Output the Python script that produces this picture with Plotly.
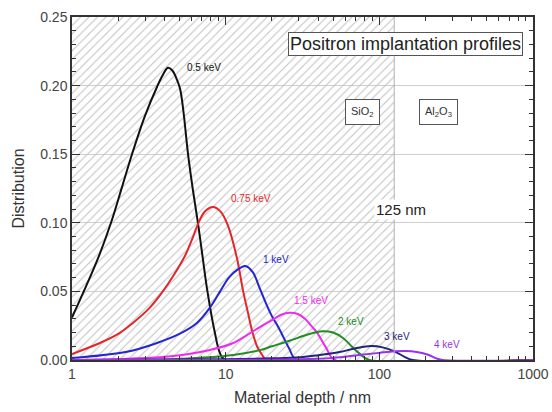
import numpy as np
import plotly.graph_objects as go

# ---------------- data ----------------
x_05 = [1.0, 1.215, 1.476, 1.794, 2.115, 2.457, 2.985, 3.573, 3.91, 4.21, 4.5, 4.75, 5.04, 5.3, 5.69, 6.1, 6.6, 7.1, 7.56, 8.5, 9.18, 9.9, 1000]
y_05 = [0.031, 0.052, 0.074, 0.100, 0.126, 0.150, 0.178, 0.199, 0.208, 0.213, 0.211, 0.206, 0.198, 0.182, 0.150, 0.125, 0.100, 0.074, 0.052, 0.020, 0.005, 0.0, 0.0]

x_075 = [1.0, 1.52, 2.0, 2.49, 3.2, 3.9, 4.6, 5.44, 6.1, 6.6, 7.3, 8.27, 9.3, 10.35, 11.8, 13.0, 14.0, 14.8, 16.0, 17.2, 18.5, 1000]
y_075 = [0.0044, 0.0124, 0.019, 0.027, 0.038, 0.050, 0.062, 0.076, 0.089, 0.099, 0.108, 0.1115, 0.108, 0.098, 0.075, 0.050, 0.034, 0.022, 0.010, 0.004, 0.0, 0.0]

x_1 = [1.0, 2.28, 3.57, 5.0, 6.5, 8.0, 9.2, 10.5, 12.0, 13.4, 15.0, 16.7, 18.5, 20.0, 21.5, 23.2, 26.0, 29.0, 1000]
y_1 = [0.0015, 0.006, 0.0124, 0.019, 0.027, 0.039, 0.050, 0.060, 0.066, 0.0685, 0.064, 0.052, 0.040, 0.032, 0.026, 0.019, 0.008, 0.0, 0.0]

x_15 = [1.0, 2.0, 3.74, 5.5, 7.9, 11.0, 14.4, 16.7, 20.0, 23.0, 26.0, 29.5, 32.8, 36.0, 39.3, 45.0, 51.4, 1000]
y_15 = [0.0, 0.0008, 0.002, 0.004, 0.0073, 0.012, 0.0195, 0.024, 0.029, 0.033, 0.0345, 0.0335, 0.030, 0.025, 0.020, 0.009, 0.0, 0.0]

x_2 = [1.0, 5.0, 11.2, 16.7, 20.0, 26.0, 33.0, 38.0, 43.0, 50.0, 58.0, 66.0, 73.7, 86.0, 1000]
y_2 = [0.0, 0.0008, 0.0036, 0.0072, 0.0100, 0.0140, 0.0180, 0.0200, 0.0210, 0.0200, 0.0160, 0.0100, 0.0050, 0.0, 0.0]

x_3 = [1.0, 10.0, 20.0, 30.5, 40.0, 55.0, 70.0, 88.0, 105.0, 128.0, 145.0, 165.0, 1000]
y_3 = [0.0, 0.0005, 0.0012, 0.002, 0.0035, 0.0058, 0.0085, 0.0102, 0.0092, 0.0058, 0.0025, 0.0, 0.0]

x_4 = [1.0, 30.0, 50.0, 73.7, 100.0, 125.0, 149.0, 175.0, 210.0, 235.0, 259.0, 1000]
y_4 = [0.0, 0.0005, 0.0015, 0.0036, 0.0052, 0.0063, 0.0066, 0.0058, 0.0036, 0.0012, 0.0, 0.0]

series = [
    ("0.5 keV", x_05, y_05, "#111111"),
    ("0.75 keV", x_075, y_075, "#e3262b"),
    ("1 keV", x_1, y_1, "#2424d4"),
    ("1.5 keV", x_15, y_15, "#ee2cee"),
    ("2 keV", x_2, y_2, "#238b23"),
    ("3 keV", x_3, y_3, "#23237a"),
    ("4 keV", x_4, y_4, "#9633ee"),
]

# label positions (data coords)
label_x = [7.22, 14.6, 21.2, 35.9, 65.3, 130, 275]
label_y = [0.2135, 0.118, 0.0736, 0.0437, 0.0284, 0.0168, 0.011]

interface_depth = 125  # nm
x_range = [1, 1000]
y_range = [0, 0.25]
y_ticks = [0.00, 0.05, 0.10, 0.15, 0.20, 0.25]
x_ticks = [1, 10, 100, 1000]

FONT = "Liberation Sans, Arial"

fig = go.Figure()

# hatched SiO2 region
fig.add_trace(go.Scatter(
    x=[x_range[0], interface_depth, interface_depth, x_range[0], x_range[0]],
    y=[y_range[0], y_range[0], y_range[1], y_range[1], y_range[0]],
    fill="toself", mode="lines", line=dict(width=0, color="rgba(0,0,0,0)"),
    fillcolor="rgba(0,0,0,0)",
    fillpattern=dict(shape="/", fgcolor="#c2c2c2", bgcolor="rgba(0,0,0,0)",
                     size=6, solidity=0.18, fillmode="replace"),
    hoverinfo="skip", showlegend=False,
))

for name, xs, ys, col in series:
    fig.add_trace(go.Scatter(
        x=xs, y=ys, mode="lines", name=name,
        line=dict(color=col, width=2, shape="spline", smoothing=1.0),
        showlegend=False,
    ))

# vertical interface line
fig.add_shape(type="line", xref="x", yref="paper",
              x0=interface_depth, x1=interface_depth, y0=0, y1=1,
              line=dict(color="#b0b0b0", width=1))

for (name, xs, ys, col), lx, ly in zip(series, label_x, label_y):
    fig.add_annotation(x=np.log10(lx), y=ly, text=name, showarrow=False,
                       xanchor="center", yanchor="middle",
                       font=dict(size=10, color=col, family=FONT))

fig.add_annotation(xref="paper", yref="paper", x=0.7245, y=0.92,
                   xanchor="center", yanchor="middle",
                   text="Positron implantation profiles", showarrow=False,
                   font=dict(size=18, color="#222", family=FONT),
                   bordercolor="#555", borderwidth=1, borderpad=1, bgcolor="white")
fig.add_annotation(xref="paper", yref="paper", x=0.630, y=0.7216,
                   xanchor="center", yanchor="middle",
                   text="SiO<sub>2</sub>", showarrow=False,
                   font=dict(size=11, color="#333", family=FONT),
                   bordercolor="#555", borderwidth=1, borderpad=5, bgcolor="white")
fig.add_annotation(xref="paper", yref="paper", x=0.794, y=0.7216,
                   xanchor="center", yanchor="middle",
                   text="Al<sub>2</sub>O<sub>3</sub>", showarrow=False,
                   font=dict(size=11, color="#333", family=FONT),
                   bordercolor="#555", borderwidth=1, borderpad=5, bgcolor="white")
fig.add_annotation(xref="paper", yref="paper", x=0.714, y=0.44,
                   xanchor="center", yanchor="middle",
                   text="125 nm", showarrow=False,
                   font=dict(size=15, color="#222", family=FONT),
                   bgcolor="white", borderpad=1)

axis_font = dict(size=14, color="#444", family=FONT)

fig.update_xaxes(type="log", range=[np.log10(x_range[0]), np.log10(x_range[1])],
                 tickvals=x_ticks, ticktext=[str(v) for v in x_ticks],
                 ticks="inside", ticklen=8, tickwidth=1.3, tickcolor="#333",
                 minor=dict(ticks="inside", ticklen=4, tickwidth=1, tickcolor="#333",
                            dtick="D1", showgrid=False),
                 showline=True, linecolor="#333", linewidth=1.5, mirror="ticks",
                 showgrid=False, zeroline=False, tickfont=axis_font, automargin=False,
                 title=dict(text="Material depth / nm", font=dict(size=16, color="#333",
                            family=FONT), standoff=11))
fig.update_yaxes(range=y_range, tickvals=y_ticks,
                 ticktext=[f"{v:.2f}" for v in y_ticks],
                 ticks="inside", ticklen=8, tickwidth=1.3, tickcolor="#333",
                 minor=dict(ticks="inside", ticklen=4, tickwidth=1, tickcolor="#333",
                            dtick=0.01, showgrid=False),
                 showline=True, linecolor="#333", linewidth=1.5, mirror="ticks",
                 showgrid=True, gridcolor="#cfcfcf", gridwidth=1, zeroline=False,
                 tickfont=axis_font, automargin=False,
                 title=dict(text="Distribution", font=dict(size=16, color="#333",
                            family=FONT), standoff=12))

fig.update_layout(
    width=552, height=412,
    margin=dict(l=72, r=19, t=17, b=52),
    plot_bgcolor="white", paper_bgcolor="white",
    showlegend=False,
)

fig.write_html("out.html")
